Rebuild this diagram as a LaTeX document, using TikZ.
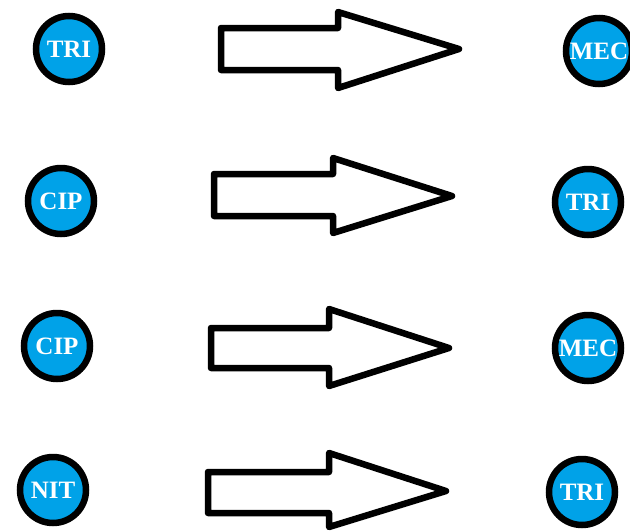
\documentclass[tikz,border=0pt]{standalone}
\usepackage{fontspec}
\setmainfont{Liberation Serif}
\definecolor{paintblue}{RGB}{0,162,232}
\begin{document}
\begin{tikzpicture}[x=1pt,y=-1pt,
  disc/.style={circle,draw=black,fill=paintblue,line width=6.5pt,minimum size=66pt,inner sep=0pt,
    text=white,font=\fontsize{25}{25}\selectfont\bfseries},
  blockarrow/.style={draw=black,fill=white,line width=6.5pt,line join=round}]
\useasboundingbox (0,0) rectangle (630,531);
% left circles
\node[disc] (l1) at (69,49) {TRI};
\node[disc] (l2) at (61,201) {CIP};
\node[disc] (l3) at (57,346) {CIP};
\node[disc] (l4) at (53,490) {NIT};
% right circles
\node[disc] (r1) at (599,51) {MEC};
\node[disc] (r2) at (588,202) {TRI};
\node[disc] (r3) at (588,348) {MEC};
\node[disc] (r4) at (582,492) {TRI};
% block arrows
\draw[blockarrow] (221,28) -- (338,28) -- (338,12) -- (459,49) -- (338,88) -- (338,70) -- (221,70) -- cycle;
\draw[blockarrow] (214,174) -- (333,174) -- (333,158) -- (452,196) -- (333,233) -- (333,216) -- (214,216) -- cycle;
\draw[blockarrow] (211,328) -- (329,328) -- (329,309) -- (449,348) -- (329,386) -- (329,368) -- (211,368) -- cycle;
\draw[blockarrow] (208,472) -- (329,472) -- (329,453) -- (446,491) -- (329,527) -- (329,513) -- (208,513) -- cycle;
\end{tikzpicture}
\end{document}
